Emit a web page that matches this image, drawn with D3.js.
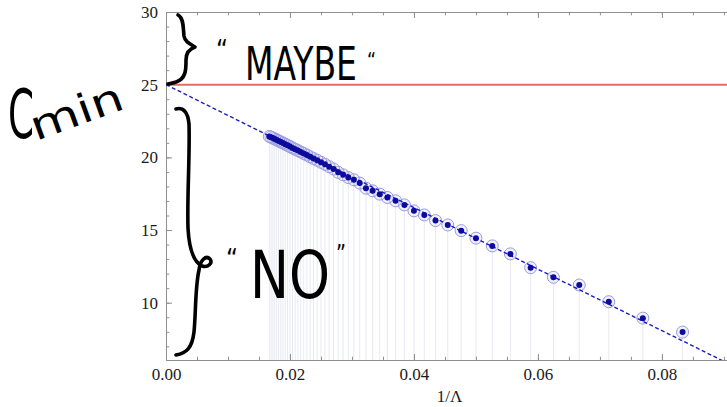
<!DOCTYPE html>
<html>
<head>
<meta charset="utf-8">
<script src="https://cdn.jsdelivr.net/npm/d3@7"></script>
<style>
  body { margin: 0; background: #fff; }
  .axis text { font-family: "Liberation Serif", "DejaVu Serif", serif; font-size: 17px; fill: #1a1a1a; }
  .axis path, .axis line { stroke: #8f8f8f; }
  .hand { font-family: "DejaVu Sans Condensed", "DejaVu Sans", sans-serif; fill: #000; }
</style>
</head>
<body>
<div id="chart"></div>
<script>
// lambda values (x = 1/lambda) and the minimal c for each
const lambdas = [12, 13, 14, 15, 16, 17, 18, 19, 20, 21, 22, 23, 24, 25, 26, 27, 28, 29, 30,
  31, 32, 33, 34, 35, 36, 37, 38, 39, 40, 41, 42, 43, 44, 45, 46, 47, 48, 49, 50,
  51, 52, 53, 54, 55, 56, 57, 58, 59, 60];
const cmin = [7.98, 8.94, 10.07, 11.22, 11.75, 12.41, 13.36, 13.91, 14.44, 14.96, 15.35, 15.65,
  16.04, 16.32, 16.73, 17.01, 17.24, 17.47, 17.70, 17.88, 18.23, 18.46, 18.61, 18.80, 18.97,
  19.20, 19.36, 19.52, 19.66, 19.80, 19.92, 20.04, 20.16, 20.27, 20.37, 20.47, 20.56, 20.65,
  20.74, 20.83, 20.91, 20.99, 21.06, 21.13, 21.20, 21.27, 21.33, 21.39, 21.44];
const xTicks = [0, 0.02, 0.04, 0.06, 0.08];
const yTicks = [10, 15, 20, 25, 30];
const threshold = 25;
const fitIntercept = 25;
const fitSlope = -211.5;

const width = 727, height = 407;
const margin = { top: 12, right: 0, bottom: 47, left: 166 };

const svg = d3.select("#chart").append("svg")
  .attr("width", width)
  .attr("height", height);

const x = d3.scaleLinear().domain([0, 0.0905]).range([margin.left, width - margin.right]);
const y = d3.scaleLinear().domain([6.06, 30]).range([height - margin.bottom, margin.top]);

const data = lambdas.map((l, i) => ({ x: 1 / l, y: cmin[i] }));

svg.append("clipPath").attr("id", "plotClip")
  .append("rect")
  .attr("x", x.range()[0]).attr("y", y.range()[1])
  .attr("width", x.range()[1] - x.range()[0])
  .attr("height", y.range()[0] - y.range()[1]);

// drop lines (filling to axis)
svg.append("g").selectAll("line").data(data).enter().append("line")
  .attr("x1", d => x(d.x)).attr("x2", d => x(d.x))
  .attr("y1", d => y(d.y)).attr("y2", y.range()[0])
  .attr("stroke", "#e8eaf2")
  .attr("stroke-width", 1);

// axes: bottom, top, left with inward ticks
const xMinor = d3.range(0, 0.0905, 0.005);
const yMinor = d3.range(7, 30.01, 1);

function frame(axisFn, scale, ticks, minor, fmt, transform, size) {
  svg.append("g").attr("class", "axis").attr("transform", transform)
    .call(axisFn(scale).tickValues(minor).tickSize(-size * 0.55).tickSizeOuter(0).tickFormat(""));
  svg.append("g").attr("class", "axis").attr("transform", transform)
    .call(axisFn(scale).tickValues(ticks).tickSize(-size).tickSizeOuter(0).tickPadding(8).tickFormat(fmt));
}
frame(d3.axisBottom, x, xTicks, xMinor, d3.format(".2f"), `translate(0,${y.range()[0]})`, 6);
frame(d3.axisTop, x, xTicks, xMinor, "", `translate(0,${y.range()[1]})`, 6);
frame(d3.axisLeft, y, yTicks, yMinor, d3.format("d"), `translate(${x.range()[0]},0)`, 6);

svg.selectAll(".axis text").filter(function () { return this.textContent === ""; }).remove();

// x label
svg.append("text")
  .attr("x", (x.range()[0] + x.range()[1]) / 2 + 3)
  .attr("y", 402)
  .attr("text-anchor", "middle")
  .style("font-family", "'Liberation Serif', serif")
  .style("font-size", "17px")
  .attr("fill", "#1a1a1a")
  .text("1/Λ");

// threshold line
svg.append("line")
  .attr("x1", x(0)).attr("x2", x.range()[1])
  .attr("y1", y(threshold)).attr("y2", y(threshold))
  .attr("stroke", "#e86868")
  .attr("stroke-width", 2);

// point rings
svg.append("g").selectAll("circle").data(data).enter().append("circle")
  .attr("cx", d => x(d.x)).attr("cy", d => y(d.y))
  .attr("r", 6)
  .attr("fill", "rgba(215,215,245,0.35)")
  .attr("stroke", "#9a9ae0")
  .attr("stroke-width", 1);

// fitted line
const fit = d3.line().x(d => x(d)).y(d => y(fitIntercept + fitSlope * d));
svg.append("path")
  .attr("clip-path", "url(#plotClip)")
  .attr("d", fit([0, 0.1]))
  .attr("fill", "none")
  .attr("stroke", "#1c1cc8")
  .attr("stroke-width", 1.4)
  .attr("stroke-dasharray", "4,2.5");

// dots
svg.append("g").selectAll("circle").data(data).enter().append("circle")
  .attr("cx", d => x(d.x)).attr("cy", d => y(d.y))
  .attr("r", 3)
  .attr("fill", "#0b0b9c");

// hand-drawn notes
const hand = svg.append("g")
  .attr("fill", "none")
  .attr("stroke", "#000")
  .attr("stroke-width", 3.6)
  .attr("stroke-linecap", "round")
  .attr("stroke-linejoin", "round");

// upper brace
hand.append("path")
  .attr("d", "M 178 15 C 184 18, 183 28, 184 36 C 185 42, 190 44, 195 47 C 189 49, 186 53, 186 60 C 186 68, 186 76, 180 80 C 176 83, 171 83, 168 84");
// lower brace
hand.append("path")
  .attr("d", "M 176 109 C 183 107, 188 112, 189 124 C 190 155, 187 195, 188 228 C 189 248, 194 262, 202 266 C 208 268, 213 263, 210 259 C 206 255, 200 260, 199 270 C 195 288, 196 312, 194 332 C 192 349, 186 353, 176 355");

// squeeze a note to a given width with a real transform
function note(str, px, tx, ty, w, rot) {
  const t = svg.append("text").attr("class", "hand")
    .style("font-size", px + "px")
    .text(str);
  const natural = t.node().getComputedTextLength();
  t.attr("transform", `translate(${tx},${ty}) rotate(${rot || 0}) scale(${w / natural},1)`);
  return t;
}

note("\u201C", 28, 216, 60, 12);
note("MAYBE", 46, 245, 80, 112);
note("\u201C", 22, 367, 68, 9);

note("\u201C", 26, 226, 268, 12);
note("NO", 66, 250, 298, 80);
note("\u201D", 24, 336, 262, 10);

note("C", 68, 8, 138, 26);
note("min", 40, 36, 141, 96, -20);
</script>
</body>
</html>
